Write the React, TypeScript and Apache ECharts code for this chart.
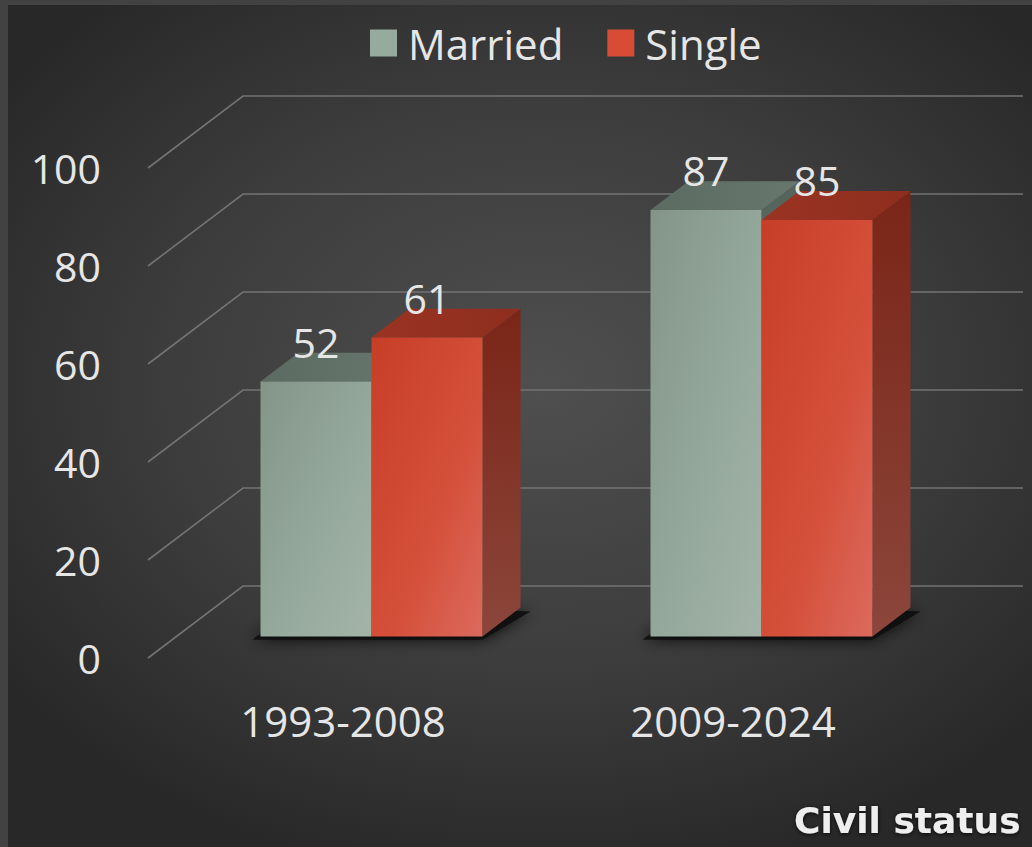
import React, { useEffect, useRef } from "react";
import * as echarts from "echarts";

const categories = ["1993-2008", "2009-2024"];
const seriesNames = ["Married", "Single"];
const married = [52, 87];
const single = [61, 85];
const gridValues = [0, 20, 40, 60, 80, 100];
const axisTitle = "Civil status";

// 3D geometry (pixels / fractions)
const DX = 95;
const DY = -72;
const BAR_FRONT = 0.3;
const BAR_DEPTH = 0.4;
const BAR_FRAC = 111 / 390;
const FONT = "'Open Sans', 'Noto Sans', sans-serif";
const TEXT = "#e6e6e6";

const lg = (x2: number, y2: number, stops: [number, string][]) =>
  new echarts.graphic.LinearGradient(0, 0, x2, y2, stops.map(([offset, color]) => ({ offset, color })));

const palette = [
  {
    front: () => lg(1, 1, [[0, "#839589"], [0.6, "#97aa9e"], [1, "#a3b3a8"]]),
    top: () => lg(1, 0, [[0, "#5c6b61"], [1, "#68776d"]]),
    side: () => lg(0, 1, [[0, "#55645a"], [1, "#6b7a70"]]),
  },
  {
    front: () => lg(1, 1, [[0, "#c73e27"], [0.6, "#d5503a"], [1, "#db6a5e"]]),
    top: () => lg(1, 0, [[0, "#9a3322"], [1, "#8e2e1f"]]),
    side: () => lg(0, 1, [[0, "#7a2517"], [1, "#8c463b"]]),
  },
];

function barRender(side: number) {
  return (params: any, api: any) => {
    const cat = api.value(0);
    const val = api.value(1);
    const base = api.coord([cat, 0]);
    const top = api.coord([cat, val]);
    const band = api.size([1, 0])[0];
    const w = band * BAR_FRAC;
    const ox = DX * BAR_FRONT;
    const oy = DY * BAR_FRONT;
    const x0 = base[0] + (side === 0 ? -w : 0) + ox;
    const x1 = x0 + w;
    const yb = base[1] + oy;
    const yt = top[1] + oy;
    const dx = DX * BAR_DEPTH;
    const dy = DY * BAR_DEPTH;
    const p = palette[side];
    return {
      type: "group",
      children: [
        {
          type: "polygon",
          shape: { points: [[x1, yt], [x1 + dx, yt + dy], [x1 + dx, yb + dy], [x1, yb]] },
          style: { fill: p.side() },
        },
        {
          type: "polygon",
          shape: { points: [[x0, yt], [x1, yt], [x1 + dx, yt + dy], [x0 + dx, yt + dy]] },
          style: { fill: p.top() },
        },
        {
          type: "rect",
          shape: { x: x0, y: yt, width: w, height: yb - yt },
          style: { fill: p.front() },
        },
        {
          type: "text",
          style: {
            text: String(val),
            x: x0 + w / 2,
            y: yt - 40,
            align: "center",
            verticalAlign: "middle",
            fill: TEXT,
            fontSize: 41,
            fontFamily: FONT,
          },
        },
      ],
    };
  };
}

export default function App() {
  const ref = useRef<HTMLDivElement>(null);

  useEffect(() => {
    document.body.style.margin = "0";
    document.body.style.background = "#424242";
    const chart = echarts.init(ref.current!, null, { renderer: "svg" });
    const option: any = {
      animation: false,
      backgroundColor: "transparent",
      textStyle: { fontFamily: FONT },
      legend: {
        data: seriesNames,
        left: 362,
        top: 17,
        padding: 0,
        itemWidth: 27,
        itemHeight: 27,
        itemGap: 44,
        icon: "rect",
        textStyle: { color: TEXT, fontSize: 42, fontFamily: FONT, padding: [0, 0, 0, 6] },
      },
      grid: { left: 140, top: 163, width: 780, height: 490 },
      xAxis: {
        type: "category",
        data: categories,
        axisLine: { show: false },
        axisTick: { show: false },
        axisLabel: { color: TEXT, fontSize: 42, fontFamily: FONT, margin: 41 },
      },
      yAxis: {
        type: "value",
        min: 0,
        max: 100,
        interval: 20,
        splitLine: { show: false },
        axisLine: { show: false },
        axisTick: { show: false },
        axisLabel: { color: TEXT, fontSize: 41, fontFamily: FONT, margin: 47 },
      },
      series: [
        {
          type: "custom",
          name: "grid",
          silent: true,
          z: 1,
          data: gridValues.map((v) => [0, v]),
          renderItem: (params: any, api: any) => {
            const cs = params.coordSys;
            const y = api.coord([0, api.value(1)])[1];
            return {
              type: "polyline",
              shape: { points: [[cs.x, y], [cs.x + DX, y + DY], [cs.x + cs.width + DX, y + DY]] },
              style: { stroke: "#737373", lineWidth: 1.6, fill: "none" },
            };
          },
        },
        {
          type: "custom",
          name: "shadow",
          silent: true,
          z: 1,
          data: categories.map((c, i) => [i, 0]),
          renderItem: (params: any, api: any) => {
            const base = api.coord([api.value(0), 0]);
            const band = api.size([1, 0])[0];
            const w = band * BAR_FRAC;
            const ox = DX * BAR_FRONT;
            const oy = DY * BAR_FRONT;
            const x0 = base[0] - w + ox;
            const x1 = base[0] + w + ox;
            const yb = base[1] + oy;
            const dx = DX * BAR_DEPTH;
            const dy = DY * BAR_DEPTH;
            return {
              type: "polygon",
              shape: { points: [[x0 - 8, yb + 3], [x1, yb + 3], [x1 + dx + 10, yb + dy + 4], [x0 + dx, yb + dy]] },
              style: {
                fill: "rgba(10,10,10,0.9)",
                shadowBlur: 16,
                shadowColor: "rgba(0,0,0,0.95)",
              },
            };
          },
        },
        {
          type: "custom",
          name: seriesNames[0],
          z: 2,
          itemStyle: { color: "#97aa9e" },
          data: married.map((v, i) => [i, v]),
          renderItem: barRender(0),
        },
        {
          type: "custom",
          name: seriesNames[1],
          z: 2,
          itemStyle: { color: "#d84c36" },
          data: single.map((v, i) => [i, v]),
          renderItem: barRender(1),
        },
      ],
      graphic: [
        {
          type: "text",
          z: 10,
          style: {
            text: axisTitle,
            x: 786,
            y: 815,
            verticalAlign: "middle",
            fill: "#eeeeee",
            fontSize: 36,
            fontWeight: "bold",
            fontFamily: "'DejaVu Sans', sans-serif",
            textShadowBlur: 4,
            textShadowColor: "rgba(0,0,0,0.8)",
            textShadowOffsetY: 1,
          },
        },
      ],
    };
    chart.setOption(option);
    return () => chart.dispose();
  }, []);

  return (
    <div style={{ position: "fixed", left: 0, top: 0, width: 1032, height: 847, background: "#424242", overflow: "hidden" }}>
      <div
        style={{
          position: "absolute",
          left: 8,
          top: 5,
          width: 1024,
          height: 842,
          background: "radial-gradient(ellipse 65% 60% at 52% 45%, #4f4f4f 0%, #3d3d3d 55%, #282828 100%)",
        }}
      >
        <div ref={ref} style={{ width: 1024, height: 842 }} />
      </div>
    </div>
  );
}
